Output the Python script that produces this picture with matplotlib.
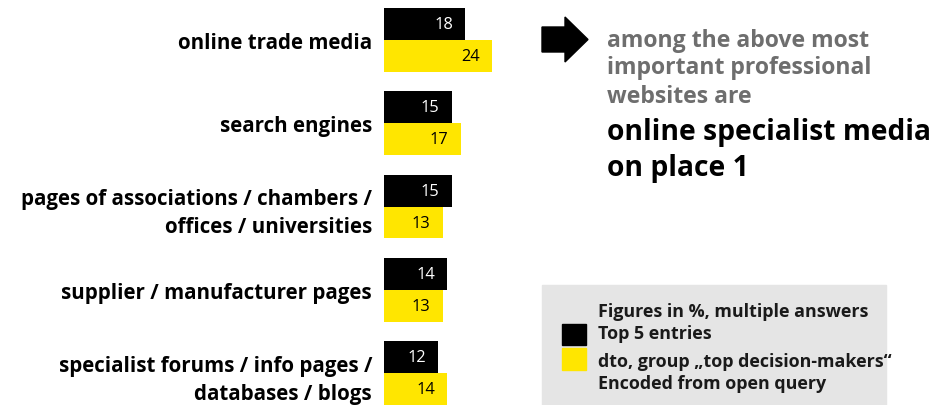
import matplotlib.pyplot as plt
from matplotlib.patches import Rectangle, Polygon

plt.rcParams['font.family'] = ['Open Sans', 'DejaVu Sans']

categories = ['online trade media', 'search engines',
              'pages of associations / chambers /\noffices / universities',
              'supplier / manufacturer pages',
              'specialist forums / info pages /\ndatabases / blogs']
top5 = [18, 15, 15, 14, 12]
top_decision = [24, 17, 13, 13, 14]

note_lines = ['among the above most', 'important professional', 'websites are']
headline_lines = ['online specialist media', 'on place 1']
legend_lines = ['Figures in %, multiple answers', 'Top 5 entries',
                'dto, group \u201etop decision-makers\u201c', 'Encoded from open query']

BLACK = '#000000'
YELLOW = '#FFE600'
W, H = 950, 406


def fx(x):
    return x / W


def fy(y):
    return 1 - y / H


fig = plt.figure(figsize=(9.5, 4.06), dpi=100)
# axes: x=0 at 384px, 4.5 px per unit
ax = fig.add_axes([fx(384), 0, 450 / W, 1])
ax.set_xlim(0, 100)
ax.set_ylim(4.384, -0.4925)

bh = 0.384
pos = list(range(len(categories)))
ax.barh([p - bh / 2 for p in pos], top5, height=bh, color=BLACK)
ax.barh([p + bh / 2 for p in pos], top_decision, height=bh, color=YELLOW)

for p, v in zip(pos, top5):
    ax.annotate(str(v), (v, p - bh / 2), xytext=(-8.6, 0), textcoords='offset points',
                ha='right', va='center', color='white', fontsize=11.8)
for p, v in zip(pos, top_decision):
    ax.annotate(str(v), (v, p + bh / 2), xytext=(-8.6, 0), textcoords='offset points',
                ha='right', va='center', color='black', fontsize=11.8)

ax.set_yticks(pos)
ax.set_yticklabels(categories, fontsize=14.8, fontweight='bold', linespacing=1.45)
ax.tick_params(axis='y', length=0, pad=8.6)
ax.set_xticks([])
for s in ax.spines.values():
    s.set_visible(False)
ax.patch.set_alpha(0)

# arrow
arrow = [(542, 28), (565, 28), (565, 18), (588, 40.5), (565, 63), (565, 53), (542, 53)]
fig.patches.append(Polygon([(fx(x), fy(y)) for x, y in arrow], closed=True,
                           transform=fig.transFigure, color='black'))

for txt, y in zip(note_lines, [47, 74.5, 103]):
    fig.text(fx(607), fy(y), txt, color='#6e6e6e', fontsize=16.6,
             fontweight='bold', va='baseline')
for txt, y in zip(headline_lines, [140, 176]):
    fig.text(fx(607), fy(y), txt, color='black', fontsize=20.3,
             fontweight='bold', va='baseline')

# legend box
fig.patches.append(Rectangle((fx(542), 0), (886 - 542) / W, (406 - 286) / H,
                             transform=fig.transFigure, color='#E5E5E5', zorder=0))
fig.patches.append(Rectangle((fx(562), fy(346)), 24 / W, 21 / H,
                             transform=fig.transFigure, color=BLACK))
fig.patches.append(Rectangle((fx(562), fy(371)), 24 / W, 22 / H,
                             transform=fig.transFigure, color=YELLOW))
for txt, y in zip(legend_lines, [317, 339, 367, 389]):
    fig.text(fx(598), fy(y), txt, fontsize=12.9, fontweight='bold',
             va='baseline', color='#1a1a1a')

fig.savefig('out.png', dpi=100)
